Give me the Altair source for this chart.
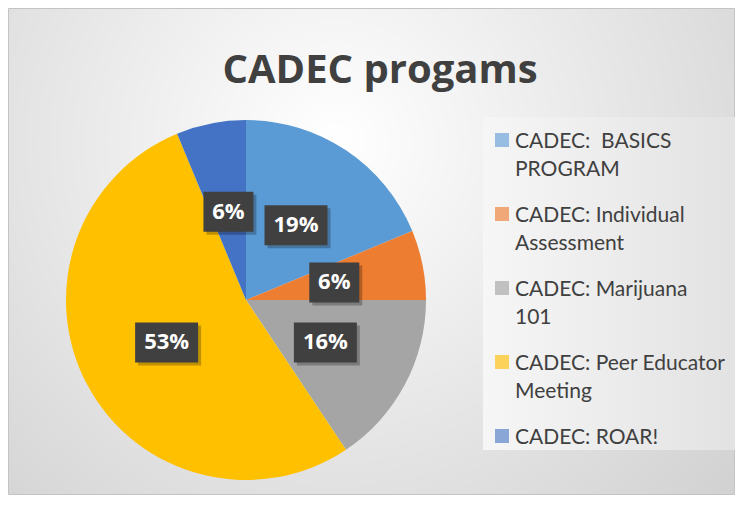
import altair as alt
import pandas as pd

# ---- data ----
programs = [
    "CADEC:  BASICS PROGRAM",
    "CADEC: Individual Assessment",
    "CADEC: Marijuana 101",
    "CADEC: Peer Educator Meeting",
    "CADEC: ROAR!",
]
legend_lines = [
    "CADEC:\u00a0 BASICS\nPROGRAM",
    "CADEC: Individual\nAssessment",
    "CADEC: Marijuana\n101",
    "CADEC: Peer Educator\nMeeting",
    "CADEC: ROAR!",
]
counts = [6, 2, 5, 17, 2]
slice_colors = ["#5B9BD5", "#ED7D31", "#A5A5A5", "#FFC000", "#4472C4"]
legend_colors = ["#97BDE3", "#F0A878", "#C0C0C0", "#FCD25A", "#8AA6D6"]
title_text = "CADEC progams"

W, H = 727, 487
CX, CY, R = 238, 292, 180

df = pd.DataFrame({
    "program": programs,
    "legend": legend_lines,
    "count": counts,
    "idx": list(range(len(programs))),
})

one = pd.DataFrame({"a": [0]})

bg = alt.Chart(one).mark_rect(
    fill=alt.Gradient(
        gradient="radial",
        x1=0.45, y1=0.35, r1=0.0,
        x2=0.45, y2=0.35, r2=0.75,
        stops=[alt.GradientStop(color="#ffffff", offset=0),
               alt.GradientStop(color="#d0d0d0", offset=1)],
    ),
    stroke="#c4c4c4", strokeWidth=1,
).encode(x=alt.value(0.5), x2=alt.value(W - 0.5), y=alt.value(0.5), y2=alt.value(H - 0.5))

legend_bg = alt.Chart(one).mark_rect(
    fill=alt.Gradient(
        gradient="linear", x1=0, x2=1, y1=0, y2=0,
        stops=[alt.GradientStop(color="#f6f6f6", offset=0),
               alt.GradientStop(color="#e2e2e2", offset=1)],
    ),
).encode(x=alt.value(475), x2=alt.value(732), y=alt.value(109), y2=alt.value(442))

title = alt.Chart(one).mark_text(
    text=title_text, font="Open Sans", fontWeight="bold", fontSize=40,
    color="#404040", align="center", baseline="alphabetic",
).encode(x=alt.value(372), y=alt.value(75))

color_scale = alt.Scale(domain=programs, range=slice_colors)

pie = alt.Chart(df).mark_arc(outerRadius=R).encode(
    theta=alt.Theta("count:Q", stack=True),
    color=alt.Color("program:N", scale=color_scale, legend=None),
    order=alt.Order("idx:Q"),
    x=alt.value(CX), y=alt.value(CY),
)

xs = alt.Scale(domain=[-1, 1], range=[CX - R, CX + R])
ys = alt.Scale(domain=[-1, 1], range=[CY + R, CY - R])

lab_base = alt.Chart(df).transform_joinaggregate(
    total="sum(count)"
).transform_window(
    cum="sum(count)", sort=[alt.SortField("idx")], frame=[None, 0]
).transform_calculate(
    mid="(datum.cum - datum.count / 2) / datum.total * 2 * PI",
    label="round(datum.count / datum.total * 100) + '%'",
).transform_calculate(
    lx="sin(datum.mid) * 0.5",
    ly="cos(datum.mid) * 0.5",
    hw="(length(datum.label) > 2 ? 31.5 : 25) / 180",
).transform_calculate(
    bx1="datum.lx - datum.hw", bx2="datum.lx + datum.hw",
    by1="datum.ly - 20 / 180", by2="datum.ly + 20 / 180",
)

shadow = lab_base.mark_rect(color="#000000", opacity=0.25, xOffset=3, yOffset=3, x2Offset=3, y2Offset=3).encode(
    x=alt.X("bx1:Q", scale=xs, axis=None), x2="bx2:Q",
    y=alt.Y("by1:Q", scale=ys, axis=None), y2="by2:Q",
)
boxes = lab_base.mark_rect(color="#404040").encode(
    x=alt.X("bx1:Q", scale=xs, axis=None), x2="bx2:Q",
    y=alt.Y("by1:Q", scale=ys, axis=None), y2="by2:Q",
)
texts = lab_base.mark_text(
    font="Open Sans", fontWeight="bold", fontSize=22, color="white",
    align="center", baseline="middle",
).encode(
    x=alt.X("lx:Q", scale=xs, axis=None),
    y=alt.Y("ly:Q", scale=ys, axis=None),
    text="label:N",
)

leg_y = alt.Scale(domain=[0, 4], range=[132, 428])
leg_sq = alt.Chart(df).mark_square(size=196, opacity=1, filled=True).encode(
    x=alt.value(494),
    y=alt.Y("idx:Q", scale=leg_y, axis=None),
    color=alt.Color("program:N", scale=alt.Scale(domain=programs, range=legend_colors), legend=None),
)
leg_tx = alt.Chart(df).mark_text(
    font="Lato", fontSize=21, color="#404040", align="left",
    baseline="alphabetic", lineBreak="\n", lineHeight=28, dy=8,
).encode(
    x=alt.value(507),
    y=alt.Y("idx:Q", scale=leg_y, axis=None),
    text="legend:N",
)

chart = alt.layer(
    bg, legend_bg, title, pie, shadow, boxes, texts, leg_sq, leg_tx
).resolve_scale(
    color="independent", y="independent", x="independent"
).properties(
    width=W, height=H, padding=0, autosize="none",
).configure_view(stroke=None)

chart.save("out.html", embed_options={"renderer": "svg", "actions": False})
